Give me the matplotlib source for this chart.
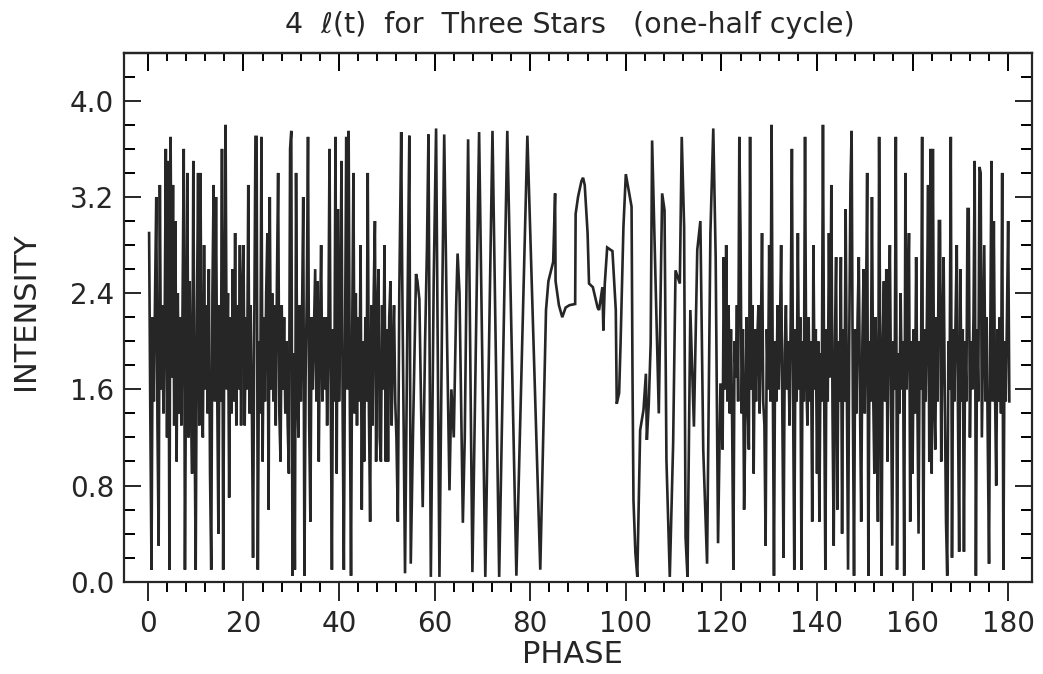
import matplotlib.pyplot as plt
import numpy as np
from matplotlib.ticker import FixedLocator

# values
# left dense stretch, one value every quarter of a phase unit from 0.25 to 52.0
left_start, left_step = 0.25, 0.25
left_vals = [
    2.9, 1.4, 0.1, 2.2, 1.5, 2.4, 3.2, 1.3, 0.3, 3.3, 1.6, 2.3, 1.4, 2.1, 3.6, 1.2, 3.5, 0.1, 3.7, 1.7,
    3.3, 1.3, 3.0, 1.0, 2.4, 1.4, 2.2, 1.3, 2.3, 3.6, 0.1, 2.0, 3.4, 1.2, 2.5, 1.5, 0.9, 3.5, 1.4, 0.1,
    2.2, 3.4, 1.3, 3.4, 1.5, 1.2, 2.8, 1.6, 2.3, 1.4, 2.6, 0.9, 0.1, 2.4, 3.3, 1.5, 3.2, 1.6, 0.4, 2.3,
    1.5, 3.6, 0.1, 2.2, 3.8, 1.6, 2.4, 0.7, 2.2, 1.4, 2.6, 1.5, 2.9, 1.3, 2.3, 1.6, 2.8, 1.3, 2.4, 2.8,
    1.3, 2.2, 1.6, 3.3, 1.4, 2.3, 1.5, 0.2, 2.1, 3.7, 3.7, 0.1, 2.0, 1.4, 3.7, 1.0, 2.2, 1.5, 2.4, 2.9,
    0.6, 3.2, 1.6, 2.4, 1.5, 2.3, 1.3, 2.5, 3.4, 1.4, 1.0, 2.3, 1.6, 2.2, 1.4, 2.0, 1.3, 0.9, 3.6, 3.75,
    0.05, 1.9, 0.1, 3.4, 1.6, 1.2, 2.3, 1.5, 2.2, 3.2, 0.05, 1.7, 2.4, 3.7, 1.3, 0.5, 2.2, 1.6, 2.1, 2.6,
    1.5, 2.5, 1.0, 2.1, 2.8, 1.5, 2.2, 1.6, 2.2, 1.3, 2.0, 3.6, 1.6, 0.1, 2.1, 1.5, 3.7, 0.9, 3.1, 1.5,
    2.2, 3.5, 1.4, 0.1, 2.0, 3.7, 1.6, 3.75, 1.5, 0.05, 2.1, 3.4, 1.4, 2.4, 1.3, 2.2, 1.5, 2.8, 0.6, 2.0,
    1.0, 2.2, 1.5, 3.4, 1.4, 0.5, 2.3, 1.3, 2.4, 3.0, 1.0, 2.2, 2.6, 1.2, 1.0, 2.3, 1.6, 2.8, 1.0, 2.1,
    1.0, 2.2, 2.5, 1.3, 1.9, 2.3, 1.5, 1.2,
]

# slower middle stretch, explicit phase / intensity pairs
mid_phase = [
    52.3, 52.6, 53.0, 53.2, 53.8, 54.3, 54.7, 55.0, 55.5, 56.1, 56.4, 56.8, 57.5, 58.0, 58.4,
    58.7, 59.2, 59.8, 60.3, 61.0, 61.6, 62.0, 62.6, 63.1, 63.5, 64.0, 64.5, 64.8, 65.2, 65.9,
    66.3, 66.7, 67.0, 67.9, 69.3, 70.6, 72.1, 73.5, 75.2, 77.1, 79.4, 82.1, 83.3, 83.8, 84.8,
    85.2, 85.3, 86.0, 86.7, 87.4, 88.2, 89.4, 89.5, 90.0, 90.7, 91.05, 91.4, 92.0, 92.3, 93.1,
    94.1, 94.4, 95.1, 95.3, 95.6, 96.1, 97.2, 97.9, 98.1, 98.6, 98.9, 99.5, 100.0, 100.7, 101.2,
    101.4, 101.6, 102.0, 102.4, 103.0, 103.7, 104.2, 104.4, 104.8, 105.2, 105.5, 106.2, 106.9, 107.6, 108.1,
    108.5, 109.2, 109.9, 110.4, 111.3, 111.7, 112.2, 112.5, 112.9, 113.5, 114.25, 114.95, 115.6, 116.2, 117.0,
    117.7, 118.3, 118.8, 119.3, 119.8,
]
mid_vals = [
    0.5, 2.4, 3.74, 2.6, 0.07, 2.2, 3.71, 0.15, 1.3, 2.56, 2.5, 2.35, 0.62, 2.0, 2.8,
    3.72, 0.04, 2.5, 3.77, 0.04, 2.4, 3.72, 2.0, 0.76, 1.6, 1.2, 2.3, 2.73, 2.4, 0.49,
    1.2, 2.6, 3.68, 0.08, 3.74, 0.04, 3.75, 0.04, 3.75, 0.05, 3.71, 0.1, 2.26, 2.5, 2.66,
    3.23, 2.5, 2.3, 2.2, 2.28, 2.3, 2.31, 3.06, 3.2, 3.33, 3.36, 3.3, 2.9, 2.48, 2.45,
    2.28, 2.26, 2.45, 2.09, 2.48, 2.78, 2.75, 2.26, 1.48, 1.57, 1.98, 2.95, 3.39, 3.23, 3.12,
    1.7, 0.68, 0.24, 0.04, 1.26, 1.43, 1.73, 1.18, 1.48, 1.98, 3.67, 2.53, 1.4, 3.23, 3.09,
    1.01, 0.04, 1.15, 2.59, 2.48, 3.7, 2.95, 0.37, 0.04, 2.26, 1.29, 2.76, 3.0, 1.1, 0.15,
    2.9, 3.77, 2.7, 0.32, 1.65,
]

# right dense stretch, one value every quarter phase from 120.25 to 180.25
right_start, right_step = 120.25, 0.25
right_vals = [
    1.1, 2.7, 1.6, 2.8, 1.5, 2.3, 1.4, 2.1, 1.3, 0.1, 2.0, 1.7, 2.3, 1.5, 3.7, 2.9, 1.4, 2.1, 0.6, 1.3,
    2.2, 1.5, 1.1, 3.7, 1.6, 2.3, 0.9, 2.1, 1.5, 2.0, 2.3, 1.4, 2.0, 2.9, 1.5, 1.3, 0.3, 2.1, 1.6, 2.8,
    1.5, 3.8, 1.7, 0.05, 2.0, 1.5, 2.3, 1.6, 2.1, 2.8, 1.4, 0.2, 1.9, 2.3, 1.6, 2.0, 1.3, 2.2, 3.6, 1.5,
    0.1, 2.1, 1.5, 2.9, 1.6, 2.2, 0.1, 2.0, 1.5, 3.7, 1.7, 1.3, 2.2, 1.5, 2.0, 0.5, 2.8, 1.6, 2.1, 0.9,
    2.0, 0.5, 1.9, 1.5, 3.8, 1.6, 0.1, 2.1, 1.5, 2.9, 1.7, 3.3, 1.4, 0.3, 2.0, 2.7, 0.6, 2.0, 1.5, 2.7,
    0.4, 2.1, 1.5, 3.1, 1.6, 0.1, 2.0, 3.3, 3.75, 1.5, 0.05, 2.1, 1.4, 2.2, 2.7, 1.5, 0.5, 2.0, 2.6, 1.4,
    2.2, 3.4, 0.05, 2.0, 1.5, 3.2, 1.6, 0.9, 2.2, 1.5, 0.5, 3.7, 1.7, 0.05, 2.0, 2.5, 1.5, 2.6, 1.0, 2.1,
    2.8, 1.5, 0.3, 2.0, 1.6, 3.7, 0.1, 1.9, 1.4, 2.4, 1.6, 2.0, 0.05, 3.4, 1.6, 2.2, 2.9, 0.5, 2.0, 0.9,
    2.1, 1.4, 2.7, 1.5, 0.4, 2.0, 1.6, 3.7, 0.1, 2.1, 1.5, 2.2, 3.3, 1.0, 3.6, 0.9, 3.6, 1.5, 1.1, 2.2,
    1.5, 3.0, 3.0, 1.0, 2.0, 2.7, 1.5, 0.5, 0.05, 2.0, 1.6, 3.7, 0.2, 2.1, 1.5, 2.2, 2.8, 1.4, 0.25, 2.6,
    1.5, 2.1, 0.25, 2.0, 1.5, 3.1, 3.1, 1.2, 2.0, 1.6, 2.2, 3.5, 0.05, 2.1, 1.5, 3.45, 3.4, 1.2, 2.0, 2.8,
    1.5, 2.2, 1.1, 0.15, 2.0, 3.5, 1.5, 3.0, 1.6, 0.8, 2.1, 1.5, 2.2, 1.4, 3.4, 0.1, 2.0, 1.5, 2.2, 3.0,
    1.5,
]

x_major = [0, 20, 40, 60, 80, 100, 120, 140, 160, 180]
y_major = [0.0, 0.8, 1.6, 2.4, 3.2, 4.0]

left_phase = left_start + left_step * np.arange(len(left_vals))
right_phase = right_start + right_step * np.arange(len(right_vals))
phase = np.concatenate([left_phase, mid_phase, right_phase])
intensity = np.concatenate([left_vals, mid_vals, right_vals])

ink = '#262626'
plt.rcParams['font.family'] = ['DejaVu Sans']

fig = plt.figure(figsize=(10.43, 6.74), dpi=100)
ax = fig.add_axes([0.1189, 0.1369, 0.8706, 0.7849])

ax.plot(phase, intensity, color=ink, lw=1.9, solid_joinstyle='miter')

ax.set_xlim(-5, 185)
ax.set_ylim(0, 4.4)

ax.xaxis.set_major_locator(FixedLocator(x_major))
ax.xaxis.set_minor_locator(FixedLocator(np.arange(0, 181, 4)))
ax.set_xticklabels([str(v) for v in x_major])
ax.yaxis.set_major_locator(FixedLocator(y_major))
ax.yaxis.set_minor_locator(FixedLocator(np.arange(0, 4.3, 0.2)))
ax.set_yticklabels(['%.1f' % v for v in y_major])

ax.tick_params(axis='x', which='major', direction='out', length=14, width=1.4,
               labelsize=20, pad=6, colors=ink, top=False)
ax.tick_params(axis='x', which='minor', direction='out', length=7, width=1.4, top=False)
ax.tick_params(axis='y', which='major', direction='in', length=12, width=1.4,
               labelsize=20, pad=7, colors=ink, right=True)
ax.tick_params(axis='y', which='minor', direction='in', length=8, width=1.4, right=True)

# top ticks point inward
top = ax.secondary_xaxis('top')
top.xaxis.set_major_locator(FixedLocator(x_major))
top.xaxis.set_minor_locator(FixedLocator(np.arange(0, 181, 4)))
top.tick_params(which='major', direction='in', length=13, width=1.4, labeltop=False)
top.tick_params(which='minor', direction='in', length=6, width=1.4)
top.spines['top'].set_linewidth(1.6)

for s in ax.spines.values():
    s.set_linewidth(1.6)
    s.set_color(ink)

fig.text(0.5465, 0.963, '4  \u2113(t)  for  Three Stars   (one-half cycle)',
         ha='center', va='center', fontsize=20.5, color=ink)
fig.text(0.024, 0.5386, 'INTENSITY', rotation=90, ha='center', va='center',
         fontsize=22, color=ink)
fig.text(0.549, 0.0282, 'PHASE', ha='center', va='center', fontsize=22, color=ink)

fig.savefig('out.png', dpi=100)
